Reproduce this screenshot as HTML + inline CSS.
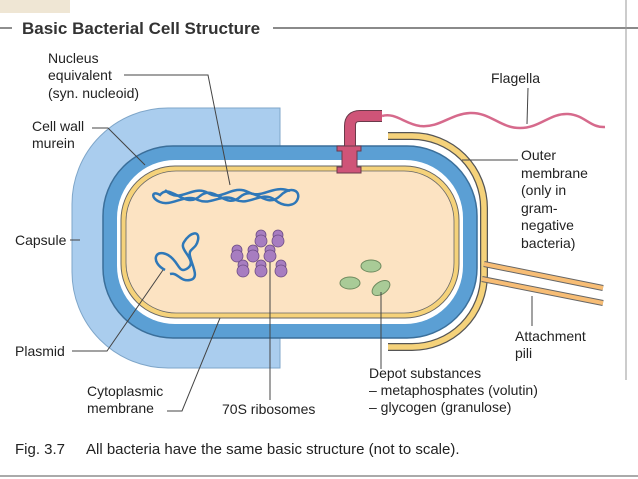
<!DOCTYPE html>
<html><head><meta charset="utf-8"><style>
html,body{margin:0;padding:0;background:#fff;}
svg{display:block;}
text{font-family:"Liberation Sans","DejaVu Sans",sans-serif;fill:#222;font-size:14px;}
</style></head><body>
<svg width="638" height="479" viewBox="0 0 638 479" xmlns="http://www.w3.org/2000/svg">
<rect x="0" y="0" width="70" height="13" fill="#efe6d4"/>
<line x1="0" y1="28" x2="12" y2="28" stroke="#444" stroke-width="1.2"/>
<line x1="273" y1="28" x2="638" y2="28" stroke="#444" stroke-width="1.2"/>
<text x="22" y="34" style="font-size:17px;font-weight:bold;fill:#333">Basic Bacterial Cell Structure</text>

<!-- capsule -->
<path d="M280,108 L168,108 A96,96 0 0 0 72,204 L72,272 A96,96 0 0 0 168,368 L280,368 Z" fill="#aacdee" stroke="#7fa6c9" stroke-width="1"/>
<!-- outer membrane (right) -->
<path d="M388,136 L412,136 A72,72 0 0 1 484,208 L484,275 A72,72 0 0 1 412,347 L388,347" fill="none" stroke="#555" stroke-width="8"/>
<path d="M388,136 L412,136 A72,72 0 0 1 484,208 L484,275 A72,72 0 0 1 412,347 L388,347" fill="none" stroke="#f5d27a" stroke-width="5.5"/>
<!-- cell wall -->
<rect x="103" y="146" width="374" height="192" rx="70" fill="#5b9fd4" stroke="#3b6f9a" stroke-width="1.5"/>
<rect x="117" y="160" width="346" height="164" rx="58" fill="#fff"/>
<rect x="121" y="166" width="338" height="152" rx="54" fill="#f5d27a" stroke="#666" stroke-width="1"/>
<rect x="126" y="171" width="328" height="142" rx="50" fill="#fce3c2" stroke="#666" stroke-width="0.8"/>

<!-- pili -->
<line x1="484" y1="264" x2="603" y2="288" stroke="#666" stroke-width="6"/>
<line x1="484" y1="264" x2="603" y2="288" stroke="#f7bd75" stroke-width="4"/>
<line x1="482" y1="279" x2="603" y2="303" stroke="#666" stroke-width="6"/>
<line x1="482" y1="279" x2="603" y2="303" stroke="#f7bd75" stroke-width="4"/>

<!-- flagellum -->
<path d="M350,146 L350,126 Q350,116 360,116 L382,116" fill="none" stroke="#6a3a4a" stroke-width="12"/>
<path d="M350,146 L350,126 Q350,116 360,116 L382,116" fill="none" stroke="#cf5478" stroke-width="10"/>
<path d="M382,116 C395,112 405,124 420,126 C440,128 450,114 470,113 C490,112 500,128 520,128 C540,128 550,113 568,114 C585,115 590,128 605,127" fill="none" stroke="#d66a8c" stroke-width="2.5"/>
<path d="M337,146 H361 V151 H357 V167 H361 V173 H337 V167 H342 V151 H337 Z" fill="#cf5478" stroke="#6a3a4a" stroke-width="1"/>

<!-- nucleoid -->
<g fill="none" stroke="#2f78b8" stroke-width="2.5">
<path d="M160,195 C170,182 185,210 200,196 C215,184 225,210 240,197 C255,184 265,210 280,196 C290,186 300,190 298,198 C296,206 285,208 275,200 C262,190 250,206 236,200 C222,192 212,206 198,200 C185,193 172,207 160,202 C150,198 152,190 160,195 Z"/>
<path d="M165,190 C180,205 192,184 208,193 C222,202 232,184 248,192 C262,200 272,184 290,191"/>
</g>
<!-- plasmid -->
<path d="M165,270 C150,262 155,248 168,255 C180,262 178,275 188,268 C198,260 178,250 184,242 C190,232 200,230 198,240 C196,250 188,248 190,256 C192,266 200,278 190,280 C180,282 178,272 170,274" fill="none" stroke="#2f78b8" stroke-width="2.5"/>

<!-- ribosomes -->
<g fill="#a77dc0" stroke="#6e4d85" stroke-width="0.8">
<g transform="translate(261,238)"><circle cy="-3" r="5"/><circle cy="3" r="6"/></g>
<g transform="translate(278,238)"><circle cy="-3" r="5"/><circle cy="3" r="6"/></g>
<g transform="translate(237,253)"><circle cy="-3" r="5"/><circle cy="3" r="6"/></g>
<g transform="translate(253,253)"><circle cy="-3" r="5"/><circle cy="3" r="6"/></g>
<g transform="translate(270,253)"><circle cy="-3" r="5"/><circle cy="3" r="6"/></g>
<g transform="translate(243,268)"><circle cy="-3" r="5"/><circle cy="3" r="6"/></g>
<g transform="translate(261,268)"><circle cy="-3" r="5"/><circle cy="3" r="6"/></g>
<g transform="translate(281,268)"><circle cy="-3" r="5"/><circle cy="3" r="6"/></g>
</g>
<!-- depot -->
<g fill="#a9cb97" stroke="#6e8a5e" stroke-width="1">
<ellipse cx="371" cy="266" rx="10" ry="6"/>
<ellipse cx="350" cy="283" rx="10" ry="6"/>
<ellipse cx="381" cy="288" rx="10" ry="6" transform="rotate(-35 381 288)"/>
</g>

<!-- leader lines -->
<g fill="none" stroke="#444" stroke-width="1">
<path d="M124,75 H208 L230,185"/>
<path d="M92,128 H108 L145,165"/>
<path d="M70,240 H80"/>
<path d="M72,351 H107 L163,270"/>
<path d="M167,411 H182 L220,318"/>
<path d="M270,262 V400"/>
<path d="M381,292 V369"/>
<path d="M462,160 H518"/>
<path d="M528,88 L527,124"/>
<path d="M532,296 V326"/>
</g>

<text x="48" y="63">Nucleus</text>
<text x="48" y="80">equivalent</text>
<text x="48" y="98">(syn. nucleoid)</text>
<text x="32" y="131">Cell wall</text>
<text x="32" y="148">murein</text>
<text x="15" y="245">Capsule</text>
<text x="15" y="356">Plasmid</text>
<text x="87" y="396">Cytoplasmic</text>
<text x="87" y="413">membrane</text>
<text x="222" y="414">70S ribosomes</text>
<text x="369" y="378">Depot substances</text>
<text x="369" y="395">– metaphosphates (volutin)</text>
<text x="369" y="412">– glycogen (granulose)</text>
<text x="491" y="83">Flagella</text>
<text x="521" y="160">Outer</text>
<text x="521" y="178">membrane</text>
<text x="521" y="195">(only in</text>
<text x="521" y="213">gram-</text>
<text x="521" y="230">negative</text>
<text x="521" y="248">bacteria)</text>
<text x="515" y="341">Attachment</text>
<text x="515" y="358">pili</text>
<text x="15" y="454" style="font-size:15px">Fig. 3.7</text>
<text x="86" y="454" style="font-size:15px">All bacteria have the same basic structure (not to scale).</text>
<line x1="626" y1="0" x2="626" y2="380" stroke="#999" stroke-width="1"/>
<line x1="0" y1="476" x2="638" y2="476" stroke="#aaa" stroke-width="2"/>
</svg>
</body></html>
